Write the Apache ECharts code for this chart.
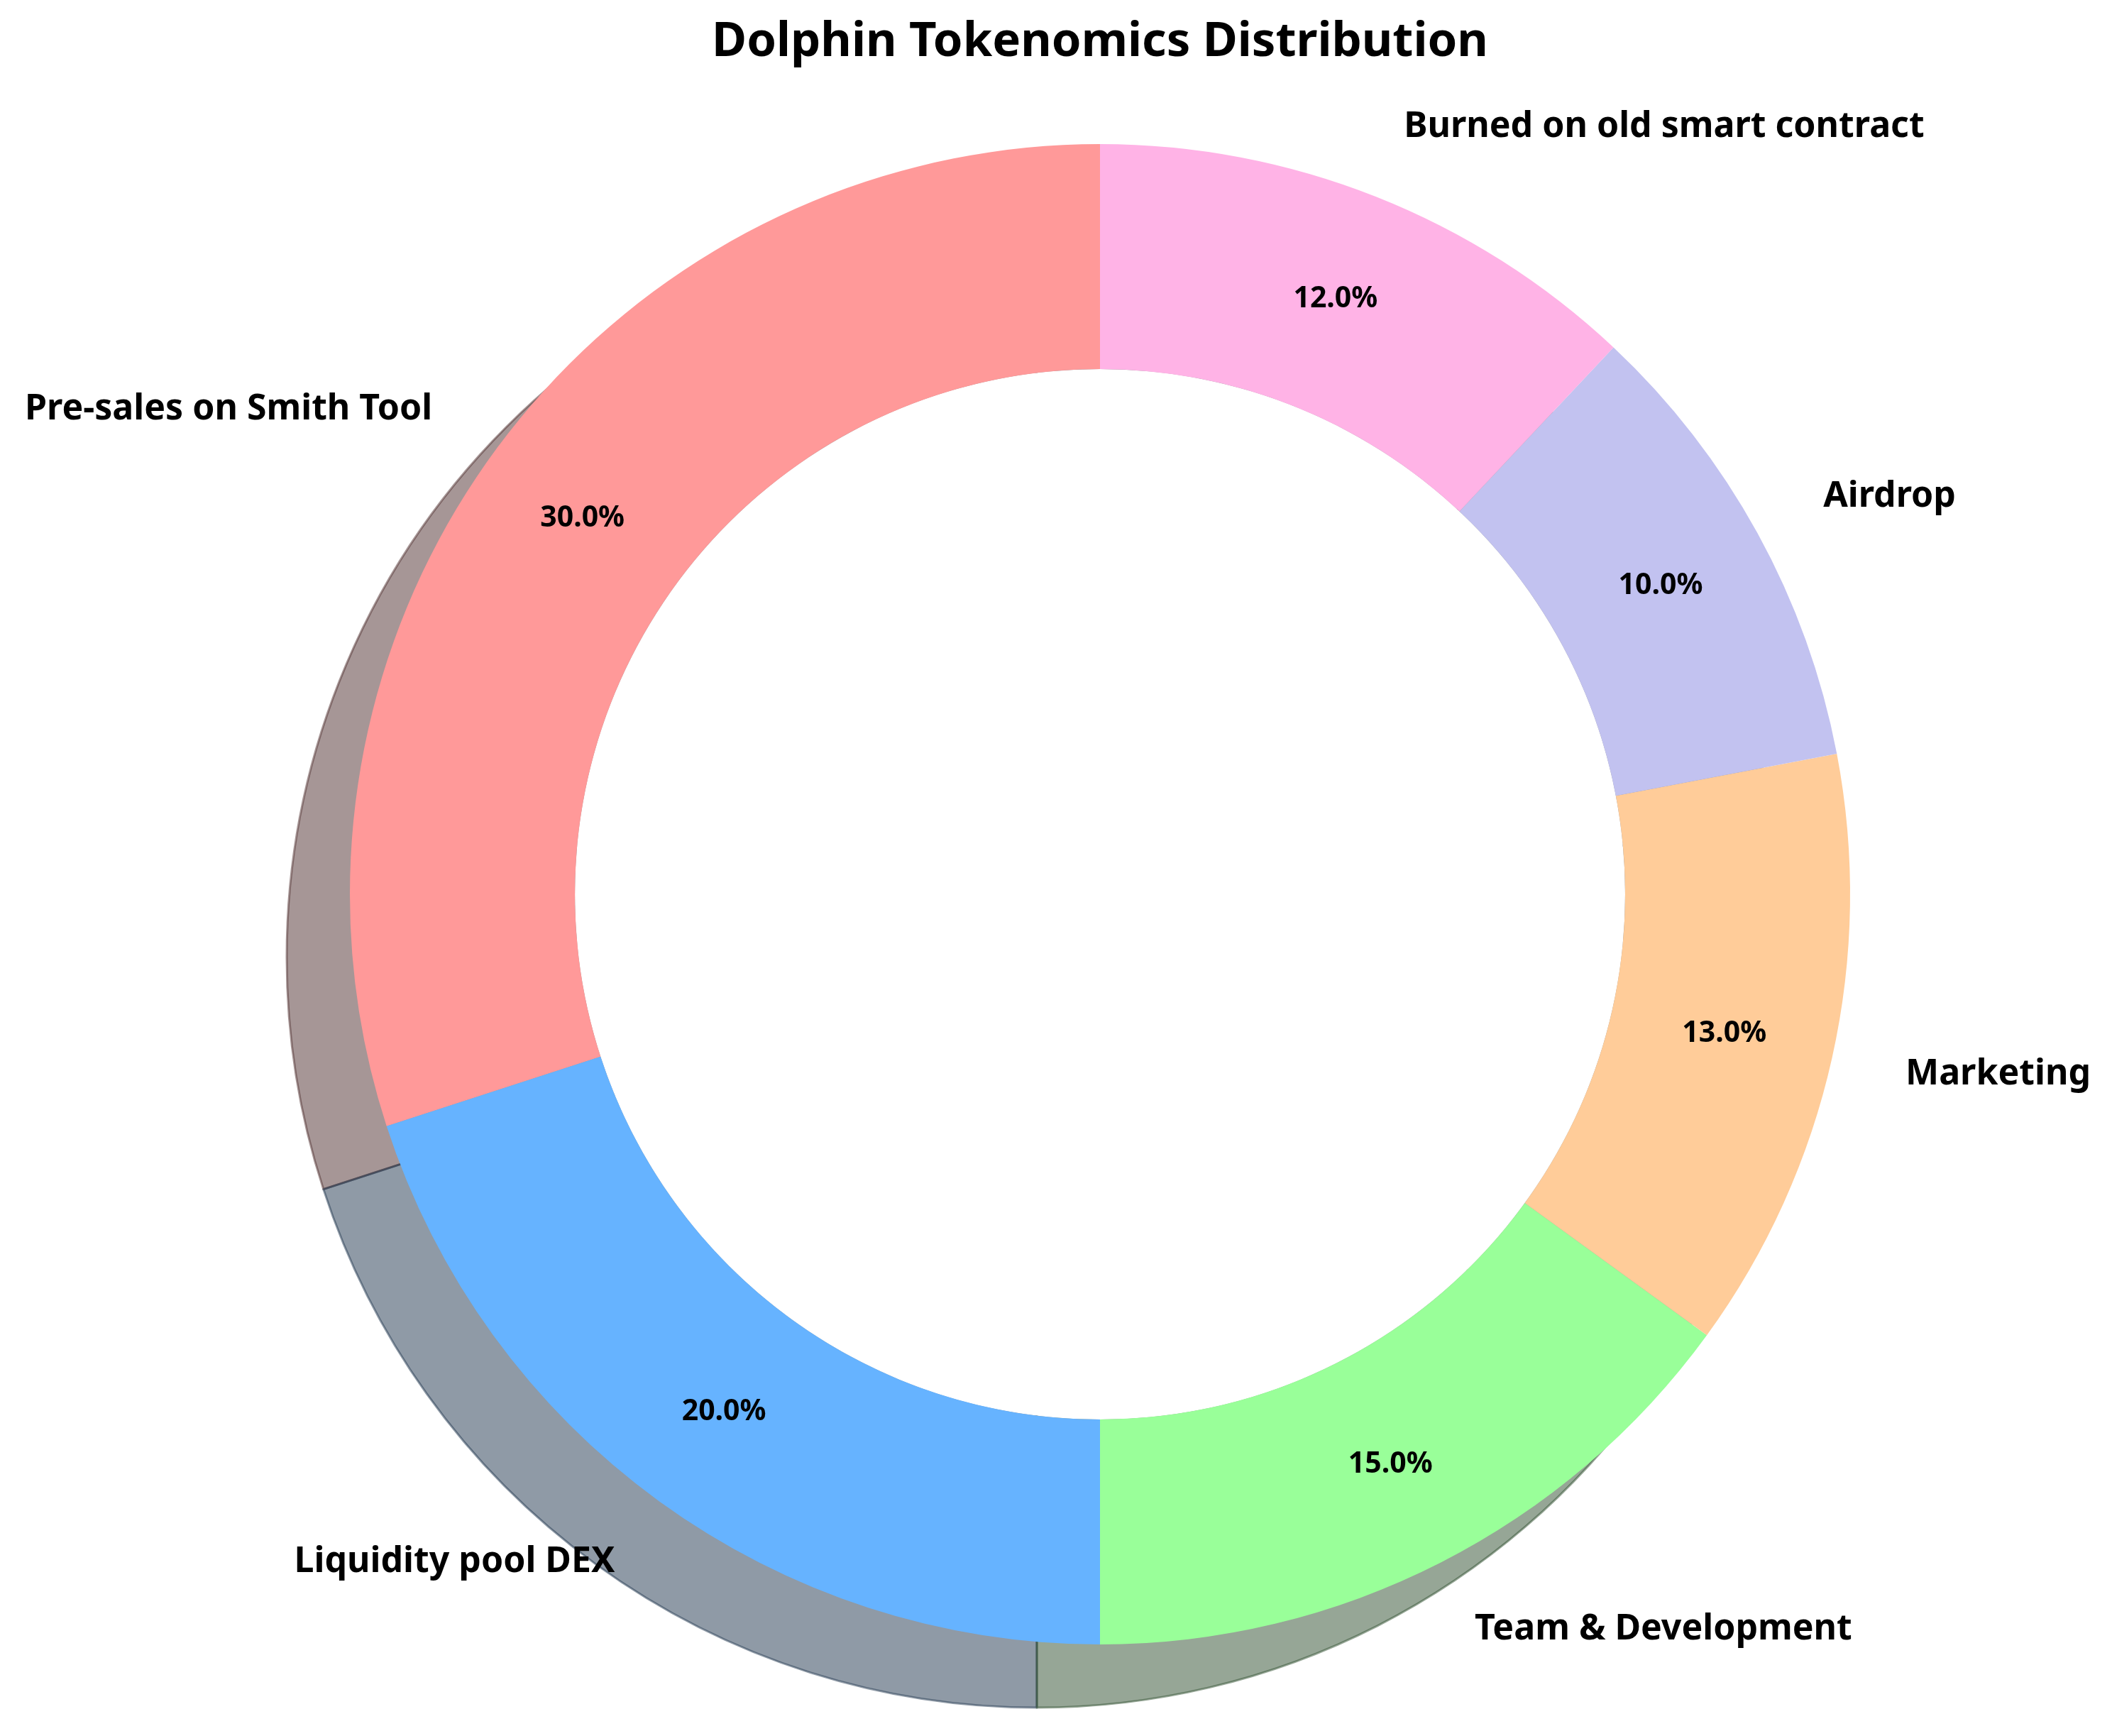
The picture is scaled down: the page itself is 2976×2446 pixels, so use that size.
<!DOCTYPE html>
<html>
<head>
<meta charset="utf-8">
<script src="https://cdn.jsdelivr.net/npm/echarts@6/dist/echarts.min.js"></script>
<style>
	html, body { margin:0; padding:0; background:#fff; }
	#tokenContainer { width:2976px; height:2446px; }
</style>
</head>
<body>
<div id="tokenContainer"></div>

<script>
var categories = ['Pre-sales on Smith Tool', 'Liquidity pool DEX', 'Team & Development', 'Marketing', 'Airdrop', 'Burned on old smart contract'];
var shares = [30, 20, 15, 13, 10, 12];
var palette = ['#ff9999', '#66b3ff', '#99ff99', '#ffcc99', '#c2c2f0', '#ffb3e6'];

var CX = 1550, CY = 1260, R = 1057, R_IN = 740;
var SHADOW_OFF = 89;

// matplotlib style shadow: 0.3 * face colour, alpha 0.5
function shadowColor(hex){
	var r = parseInt(hex.substring(1,3),16) * 0.3;
	var g = parseInt(hex.substring(3,5),16) * 0.3;
	var b = parseInt(hex.substring(5,7),16) * 0.3;
	return 'rgba(' + r.toFixed(0) + ',' + g.toFixed(0) + ',' + b.toFixed(0) + ',0.5)';
}

var mainData = [], shadowData = [];
for(var i = 0;i<categories.length;i++){
	mainData.push({
		name : categories[i],
		value : shares[i],
		itemStyle : { color : palette[i] }
	});
	shadowData.push({
		name : categories[i],
		value : shares[i],
		itemStyle : { color : shadowColor(palette[i]), borderColor : shadowColor(palette[i]), borderWidth : 3 }
	});
}

var myChart = echarts.init(document.getElementById('tokenContainer'));
var option = {
	backgroundColor : '#ffffff',
	animation : false,
	title : {
		text : 'Dolphin Tokenomics Distribution',
		left : CX,
		top : 26,
		textAlign : 'center',
		padding : 0,
		textStyle : {
			fontFamily : 'Noto Sans',
			fontWeight : 'bold',
			fontSize : 67,
			color : '#000'
		}
	},
	series : [{
		// shadow
		type : 'pie',
		silent : true,
		center : [CX - SHADOW_OFF, CY + SHADOW_OFF],
		radius : [0, R],
		startAngle : 90,
		clockwise : false,
		label : { show : false },
		labelLine : { show : false },
		data : shadowData
	},{
		// white hole
		type : 'pie',
		silent : true,
		center : [CX, CY],
		radius : [0, R_IN],
		label : { show : false },
		labelLine : { show : false },
		itemStyle : { color : '#ffffff', borderWidth : 0 },
		data : [{ name : 'hole', value : 1 }]
	},{
		type : 'pie',
		center : [CX, CY],
		radius : [R_IN, R],
		startAngle : 90,
		clockwise : false,
		avoidLabelOverlap : false,
		itemStyle : { borderWidth : 0 },
		label : {
			show : true,
			position : 'inside',
			formatter : function(p){ return p.percent.toFixed(1) + '%'; },
			fontFamily : 'Noto Sans',
			fontWeight : 'bold',
			fontSize : 41,
			color : '#000'
		},
		labelLine : { show : false },
		data : mainData
	},{
		// outer category labels at 1.1 R
		type : 'pie',
		silent : true,
		center : [CX, CY],
		radius : [R_IN, R],
		startAngle : 90,
		clockwise : false,
		avoidLabelOverlap : false,
		itemStyle : { color : 'rgba(0,0,0,0)', borderWidth : 0 },
		label : {
			show : true,
			position : 'outside',
			formatter : '{b}',
			distanceToLabelLine : 0,
			fontFamily : 'Noto Sans',
			fontWeight : 'bold',
			fontSize : 50,
			color : '#000'
		},
		labelLine : { show : false, length : Math.round(R * 0.1), length2 : 0 },
		data : categories.map(function(c, i){ return { name : c, value : shares[i] }; })
	}]
};
myChart.setOption(option);
</script>
</body>
</html>
